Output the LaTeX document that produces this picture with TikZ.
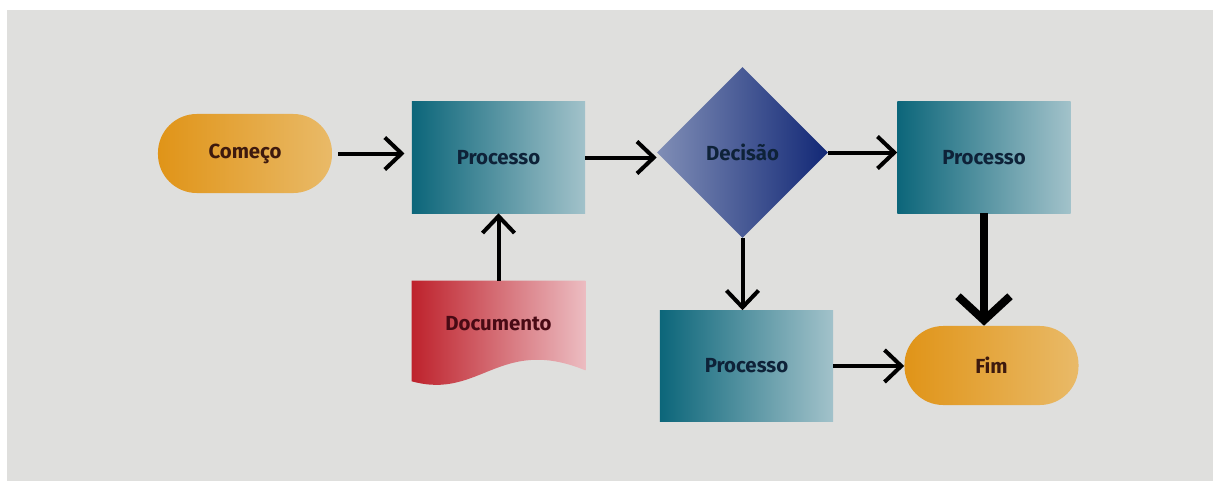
\documentclass[tikz,border=0pt]{standalone}
\usepackage{fontspec}
\setmainfont{Fira Sans}
\usepackage{tikz}
\usetikzlibrary{arrows.meta, positioning, shapes.geometric, calc, backgrounds}
\definecolor{canvas}{RGB}{223,223,221}
\definecolor{ocreL}{RGB}{224,148,24}
\definecolor{ocreR}{RGB}{233,186,104}
\definecolor{tealL}{RGB}{12,102,122}
\definecolor{tealR}{RGB}{162,194,202}
\definecolor{navyL}{RGB}{128,142,182}
\definecolor{navyR}{RGB}{18,40,118}
\definecolor{docL}{RGB}{190,34,44}
\definecolor{docR}{RGB}{236,188,193}
\definecolor{txtbrown}{RGB}{62,26,14}
\definecolor{txtnavy}{RGB}{14,34,56}
\definecolor{txtmaroon}{RGB}{72,10,20}

\begin{document}
\begin{tikzpicture}[x=0.025cm, y=-0.025cm,
  boxtext/.style={font=\bfseries\fontsize{14.5}{16}\selectfont},
  terminal/.style={boxtext, rectangle, rounded corners=0.97cm, minimum width=4.35cm,
                   minimum height=1.975cm, left color=ocreL, right color=ocreR, text=txtbrown},
  process/.style={boxtext, rectangle, minimum width=4.325cm, minimum height=2.775cm,
                  left color=tealL, right color=tealR, text=txtnavy},
  decision/.style={boxtext, diamond, minimum width=4.275cm, minimum height=4.275cm, inner sep=0pt,
                   left color=navyL, right color=navyR, text=txtnavy},
  docbox/.style={boxtext, rectangle, minimum width=4.325cm, minimum height=2.15cm, text=txtmaroon},
  arrow/.style={-{Straight Barb[length=0.42cm, width=0.8cm]}, line width=0.1cm},
  bigarrow/.style={-{Straight Barb[length=0.6cm, width=1.3cm]}, line width=0.2cm}]

  \node[terminal] (S) at (245,153.5) {Começo};
  \node[process] (P1) at (498.5,157.5) {Processo};
  \node[decision] (D) at (742.5,152.5) {Decisão};
  \node[process] (P2) at (984,157.5) {Processo};
  \node[docbox] (Doc) at (498.5,324) {Documento};
  \node[process] (P3) at (746.5,366) {Processo};
  \node[terminal] (F) at (991.5,365.5) {Fim};

  % page, canvas and document shape with wavy bottom
  \begin{scope}[on background layer]
    \fill[white] (0,0) rectangle (1213,481);
    \fill[canvas] (7,10) rectangle (1213,481);
    \shade[left color=docL, right color=docR]
      (Doc.north west) -- (Doc.north east) -- ($(Doc.south east)+(0,3)$)
      .. controls ($(Doc.south)+(1.5,-32)$) and ($(Doc.south west)+(68,33)$)
      .. ($(Doc.south west)+(0,14)$) -- cycle;
  \end{scope}

  \draw[arrow, shorten <=0.15cm, shorten >=0.18cm] (S.east) -- (S.east -| P1.west);
  \draw[arrow] (P1.east) -- (P1.east -| D.west);
  \draw[arrow] (D.east) -- (D.east -| P2.west);
  \draw[arrow] (Doc.north) -- (P1.south);
  \draw[arrow] (D.south) -- (D.south |- P3.north);
  \draw[bigarrow] (P2.south) -- (P2.south |- F.north);
  \draw[arrow] (P3.east) -- (P3.east -| F.west);
\end{tikzpicture}
\end{document}
